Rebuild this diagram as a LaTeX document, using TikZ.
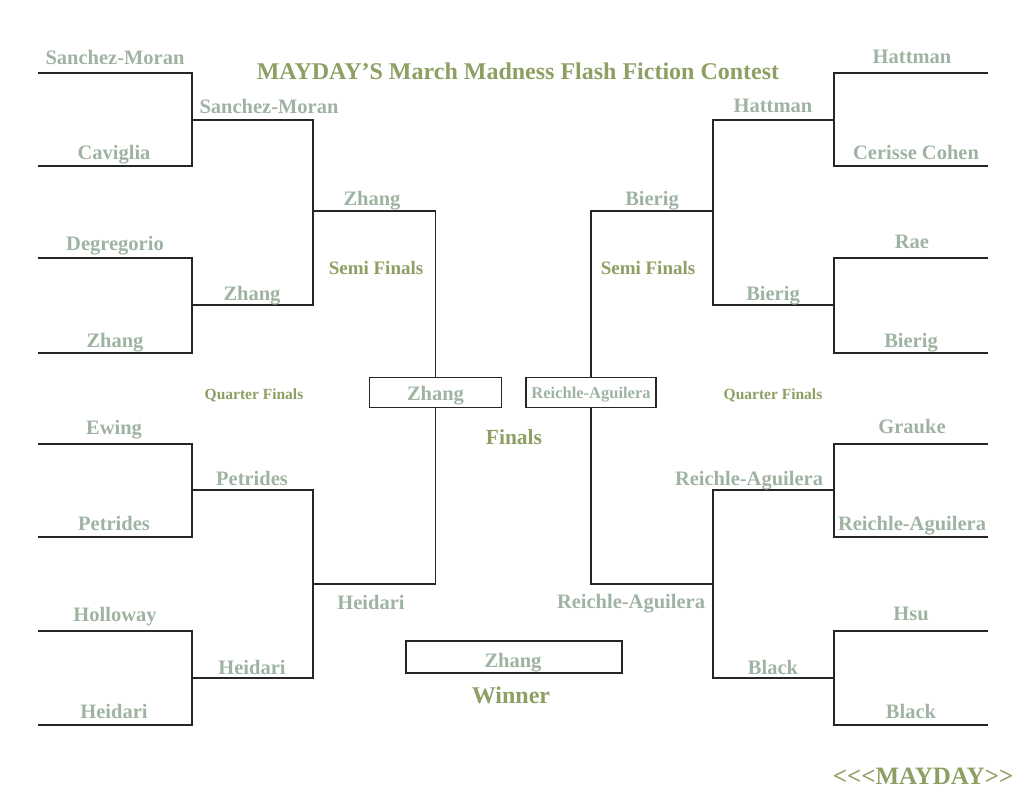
\documentclass[tikz,border=0pt]{standalone}
\usepackage{fontspec}
\setmainfont{Liberation Serif}
\definecolor{namec}{HTML}{9FB3A2}
\definecolor{titlec}{HTML}{8E9F63}
\definecolor{linec}{HTML}{262626}
\begin{document}
\begin{tikzpicture}[x=1pt,y=-1pt,
  nm/.style={font=\fontsize{20.5}{22}\selectfont\bfseries, text=namec, inner sep=0pt, anchor=base},
  ttl/.style={font=\fontsize{24}{26}\selectfont\bfseries, text=titlec, inner sep=0pt, anchor=base},
  lbl/.style={font=\fontsize{21}{24}\selectfont\bfseries, text=titlec, inner sep=0pt, anchor=base},
  qf/.style={font=\fontsize{15.5}{17}\selectfont\bfseries, text=titlec, inner sep=0pt, anchor=base},
  br/.style={draw=linec, line width=1.4pt},
  fbox/.style={draw=linec, line width=1.4pt, inner sep=0pt, fill=white}
]
\useasboundingbox (0,0) rectangle (1024,791);
% boxes
\node[fbox, minimum width=132pt, minimum height=30pt] (zbox) at (435.5,392.5) {};
\node[fbox, minimum width=130pt, minimum height=30pt] (rbox) at (591,392.5) {};
\node[fbox, minimum width=216pt, minimum height=32pt] (wbox) at (514,657) {};
% left bracket
\draw[br] (38,73) -- (192,73) -- (192,166) -- (38,166);
\draw[br] (38,258) -- (192,258) -- (192,353) -- (38,353);
\draw[br] (38,444) -- (192,444) -- (192,537) -- (38,537);
\draw[br] (38,631) -- (192,631) -- (192,725) -- (38,725);
\draw[br] (192,120) -- (313,120) -- (313,305) -- (192,305);
\draw[br] (192,490) -- (313,490) -- (313,678) -- (192,678);
\draw[br] (313,211) -- (zbox.north |- 0,211) -- (zbox.north);
\draw[br] (313,584) -- (zbox.south |- 0,584) -- (zbox.south);
% right bracket
\draw[br] (988,73) -- (834,73) -- (834,166) -- (988,166);
\draw[br] (988,258) -- (834,258) -- (834,353) -- (988,353);
\draw[br] (988,444) -- (834,444) -- (834,537) -- (988,537);
\draw[br] (988,631) -- (834,631) -- (834,725) -- (988,725);
\draw[br] (834,120) -- (713,120) -- (713,305) -- (834,305);
\draw[br] (834,490) -- (713,490) -- (713,678) -- (834,678);
\draw[br] (713,211) -- (rbox.north |- 0,211) -- (rbox.north);
\draw[br] (713,584) -- (rbox.south |- 0,584) -- (rbox.south);
% titles
\node[ttl] (title) at (518,80) {MAYDAY’S March Madness Flash Fiction Contest};
\node[ttl, font=\fontsize{25}{27}\selectfont\bfseries] (foot) at (923,784) {{<}{<}{<}MAYDAY{>}{>}};
% box texts
\node[nm] (zt) at (zbox.center |- 0,400) {Zhang};
\node[nm, font=\fontsize{16.5}{18}\selectfont\bfseries] (rt) at (rbox.center |- 0,398) {Reichle-Aguilera};
\node[nm] (wt) at (513,667) {Zhang};
% labels
\node[lbl, font=\fontsize{21.5}{24}\selectfont\bfseries] (fin) at (514,444) {Finals};
\node[lbl, font=\fontsize{24}{26}\selectfont\bfseries] (win) at (511,703) {Winner};
\node[lbl, font=\fontsize{19}{21}\selectfont\bfseries] (sfl) at (376,275) {Semi Finals};
\node[lbl, font=\fontsize{19}{21}\selectfont\bfseries] (sfr) at (648,275) {Semi Finals};
\node[qf] (qfl) at (254,399) {Quarter Finals};
\node[qf] (qfr) at (773,399) {Quarter Finals};
% left names round 1
\node[nm] (l1) at (115,65) {Sanchez-Moran};
\node[nm] (l2) at (114,160) {Caviglia};
\node[nm] (l3) at (115,251) {Degregorio};
\node[nm] (l4) at (115,347) {Zhang};
\node[nm] (l5) at (114,434) {Ewing};
\node[nm] (l6) at (114,530) {Petrides};
\node[nm] (l7) at (115,621) {Holloway};
\node[nm] (l8) at (114,718) {Heidari};
% left round 2
\node[nm] (lq1) at (269,114) {Sanchez-Moran};
\node[nm] (lq2) at (252,300) {Zhang};
\node[nm] (lq3) at (252,485) {Petrides};
\node[nm] (lq4) at (252,674) {Heidari};
% left semis
\node[nm] (ls1) at (372,206) {Zhang};
\node[nm] (ls2) at (371,609) {Heidari};
% right names round 1
\node[nm] (r1) at (912,64) {Hattman};
\node[nm] (r2) at (916,160) {Cerisse Cohen};
\node[nm] (r3) at (912,249) {Rae};
\node[nm] (r4) at (911,347) {Bierig};
\node[nm] (r5) at (912,433) {Grauke};
\node[nm] (r6) at (912,530) {Reichle-Aguilera};
\node[nm] (r7) at (911,620) {Hsu};
\node[nm] (r8) at (911,718) {Black};
% right round 2
\node[nm] (rq1) at (773,113) {Hattman};
\node[nm] (rq2) at (773,300) {Bierig};
\node[nm] (rq3) at (749,485) {Reichle-Aguilera};
\node[nm] (rq4) at (773,674) {Black};
% right semis
\node[nm] (rs1) at (652,206) {Bierig};
\node[nm] (rs2) at (631,608) {Reichle-Aguilera};
\end{tikzpicture}
\end{document}
